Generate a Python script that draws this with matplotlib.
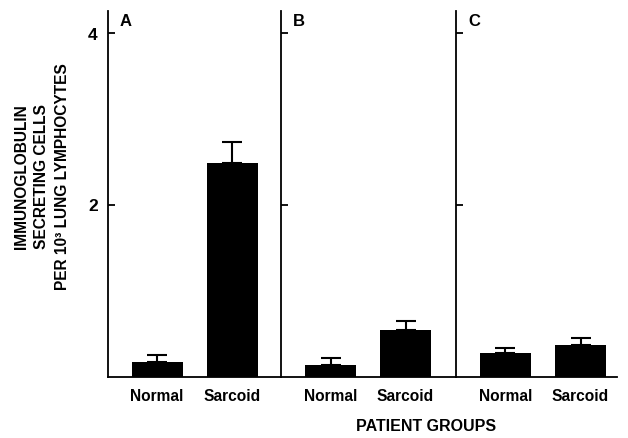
import matplotlib
matplotlib.use("Agg")
import matplotlib.pyplot as plt

plt.rcParams['font.family'] = ['Liberation Sans', 'DejaVu Sans']
plt.rcParams['font.weight'] = 'bold'

panels = ["A", "B", "C"]
groups = ["Normal", "Sarcoid"]
means = {"A": [0.17, 2.48], "B": [0.13, 0.54], "C": [0.27, 0.37]}
errs = {"A": [0.08, 0.25], "B": [0.08, 0.10], "C": [0.06, 0.08]}
yticks = [2, 4]

W, H = 628, 439
fig = plt.figure(figsize=(W / 100, H / 100), dpi=100)

# layout in pixels: (left, right) of each panel
px = {"A": (107.5, 281), "B": (281, 456), "C": (456, 617)}
base_y, top_y = 377.5, 12
unit = 75.0
ymax = 4.25

for i, p in enumerate(panels):
    l, r = px[p]
    ax = fig.add_axes([l / W, (H - base_y) / H, (r - l) / W, (base_y - top_y) / H])
    ax.bar([0, 1], means[p], width=0.68, color='black',
           yerr=[[0, 0], errs[p]], error_kw=dict(ecolor='black', elinewidth=1.5,
                                                 capsize=7.5, capthick=1.5))
    ax.set_xlim(-0.66, (r - l) / unit - 0.66)
    ax.set_ylim(0, ymax)
    for s in ['top', 'right']:
        ax.spines[s].set_visible(False)
    ax.spines['left'].set_linewidth(1.3)
    ax.spines['bottom'].set_linewidth(1.3)
    ax.set_yticks(yticks)
    ax.tick_params(axis='y', direction='in', length=5, width=1.3, pad=7,
                   labelsize=12.5, labelleft=(i == 0))
    ax.set_xticks([0, 1])
    ax.set_xticklabels(groups, fontsize=11.2, fontweight='bold')
    ax.tick_params(axis='x', length=0, pad=8)
    fig.text((l + 18) / W, 1 - 21 / H, p, fontsize=12, fontweight='bold',
             ha='center', va='center')

fig.text(42 / W, 1 - 177 / H,
         "IMMUNOGLOBULIN\nSECRETING CELLS\nPER 10³ LUNG LYMPHOCYTES",
         rotation=90, ha='center', va='center', fontsize=11.2,
         fontweight='bold', linespacing=1.45, multialignment='center')
fig.text(426 / W, 1 - 427 / H, "PATIENT GROUPS", ha='center', va='center',
         fontsize=11.5, fontweight='bold')

fig.savefig("out.png", dpi=100)
